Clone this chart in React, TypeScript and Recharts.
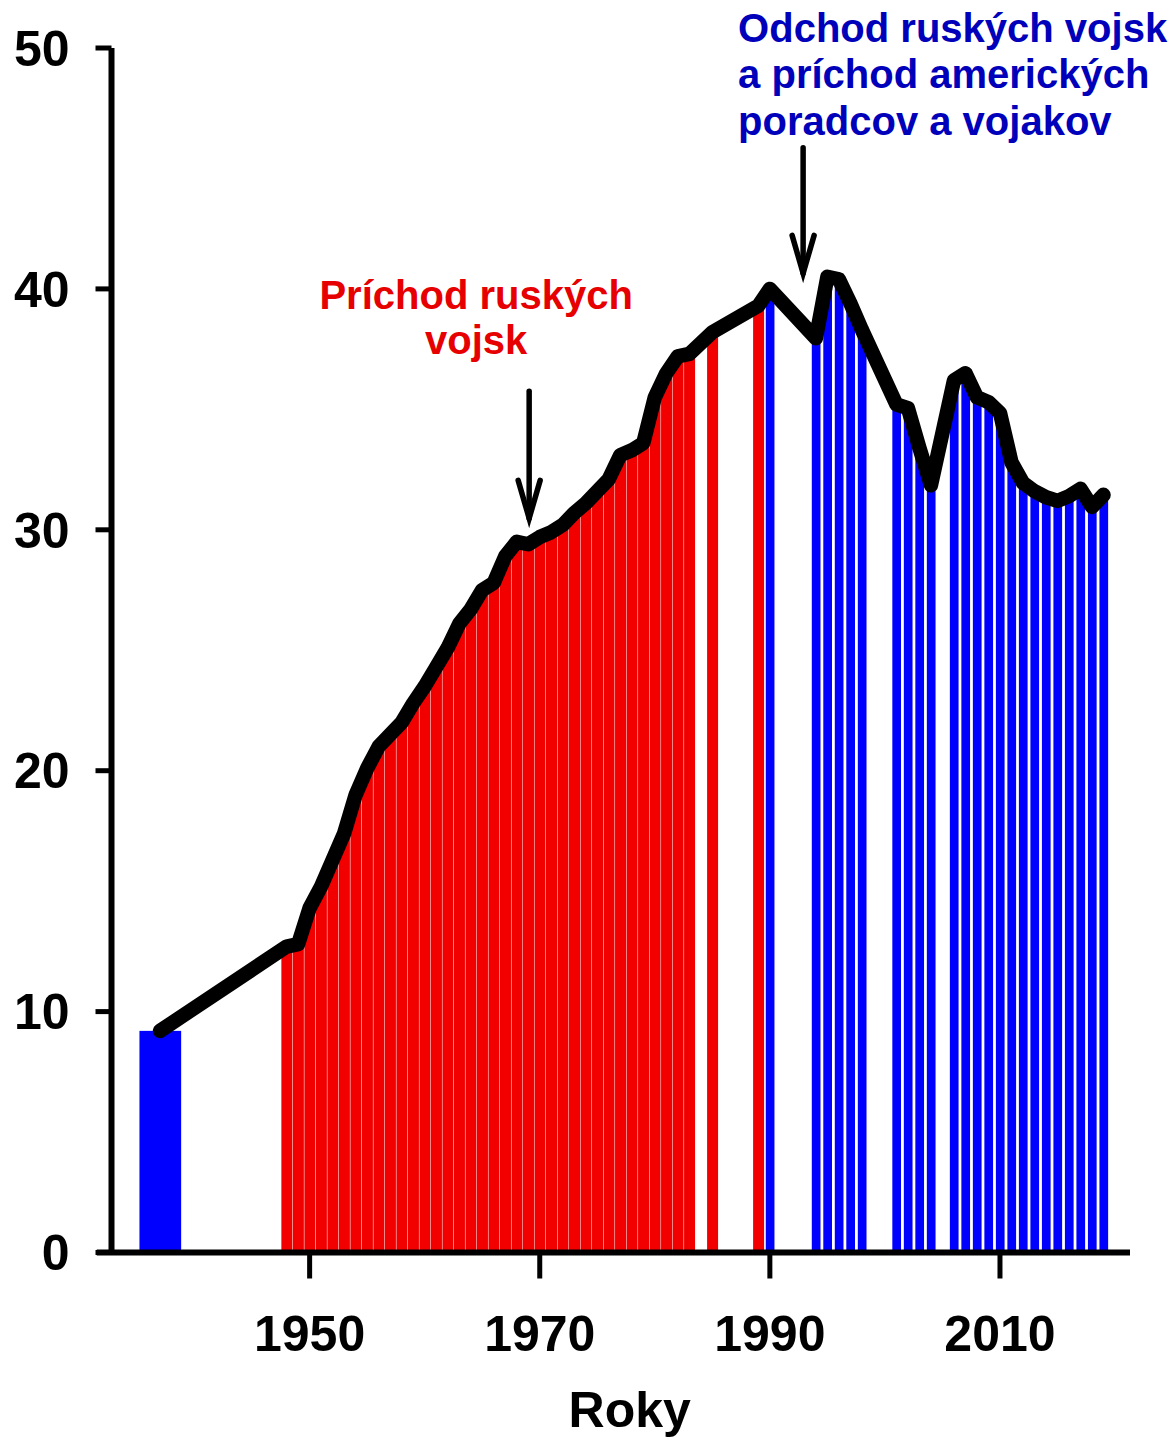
import React from 'react';
import { ComposedChart, Bar, Line, XAxis, YAxis, ReferenceLine, Label } from 'recharts';

// ---- data ----
const PRE_WAR_YEARS = [1937];
const PRE_WAR_VALUES = [9.2];

const OCCUPATION_YEARS = [
  1948, 1949, 1950, 1951, 1952, 1953, 1954, 1955, 1956, 1957, 1958, 1959,
  1960, 1961, 1962, 1963, 1964, 1965, 1966, 1967, 1968, 1969, 1970, 1971,
  1972, 1973, 1974, 1975, 1976, 1977, 1978, 1979, 1980, 1981, 1982, 1983,
  1985, 1989,
];
const OCCUPATION_VALUES = [
  12.7, 12.8, 14.3, 15.2, 16.3, 17.4, 19.0, 20.1, 21.0, 21.5, 22.0, 22.8,
  23.5, 24.3, 25.1, 26.1, 26.7, 27.5, 27.8, 28.9, 29.5, 29.4, 29.7, 29.9,
  30.2, 30.7, 31.1, 31.6, 32.1, 33.1, 33.3, 33.6, 35.5, 36.5, 37.2, 37.3,
  38.2, 39.3,
];

const POST_YEARS = [
  1990, 1994, 1995, 1996, 1997, 1998, 2001, 2002, 2003, 2004, 2006, 2007,
  2008, 2009, 2010, 2011, 2012, 2013, 2014, 2015, 2016, 2017, 2018, 2019,
];
const POST_VALUES = [
  40.0, 37.95, 40.5, 40.4, 39.4, 38.3, 35.2, 35.05, 33.4, 31.85, 36.2, 36.5,
  35.5, 35.3, 34.85, 32.8, 31.95, 31.6, 31.35, 31.2, 31.4, 31.7, 30.95, 31.45,
];

const X_TICKS = [1950, 1970, 1990, 2010];
const Y_TICKS = [0, 10, 20, 30, 40, 50];
const X_TITLE = 'Roky';
const RED_NOTE = ['Príchod ruských', 'vojsk'];
const BLUE_NOTE = ['Odchod ruských vojsk', 'a príchod amerických', 'poradcov a vojakov'];
const RED_ARROW = { year: 1969.08, from: 35.75, to: 30.35 };
const BLUE_ARROW = { year: 1992.89, from: 45.86, to: 40.52 };

// ---- styles ----
const FONT = '"Liberation Sans", Arial, sans-serif';
const ERA_STYLE: Record<string, { fill: string; gap: number }> = {
  pre: { fill: '#0000ff', gap: 3.3 },
  occupation: { fill: '#f20000', gap: 1 },
  post: { fill: '#0000ff', gap: 3.3 },
};
const WIDE_BAR_FACTOR = 3.75;

type Row = { year: number; value: number; era: string };
const build = (years: number[], values: number[], era: string): Row[] =>
  years.map((year, i) => ({ year, value: values[i], era }));

const data: Row[] = [
  ...build(PRE_WAR_YEARS, PRE_WAR_VALUES, 'pre'),
  ...build(OCCUPATION_YEARS, OCCUPATION_VALUES, 'occupation'),
  ...build(POST_YEARS, POST_VALUES, 'post'),
].sort((a, b) => a.year - b.year);

const BarShape = (props: any) => {
  const { x, y, width, height, payload } = props;
  if (!height || height <= 0 || width == null) return null;
  const st = ERA_STYLE[payload.era];
  const factor = payload.era === 'pre' ? WIDE_BAR_FACTOR : 1;
  const w = width * factor;
  const cx = x + width / 2;
  return (
    <rect x={cx - w / 2 + st.gap / 2} y={y} width={Math.max(0, w - st.gap)} height={height} fill={st.fill} />
  );
};

const makeArrow =
  (lines: string[], color: string, anchor: 'start' | 'middle', dx: number, baselines: number[]) =>
  (p: any) => {
    const x = p.x1;
    const top = Math.min(p.y1, p.y2);
    const tip = Math.max(p.y1, p.y2);
    return (
      <g>
        <line x1={x} y1={top} x2={x} y2={tip - 3} stroke="#000" strokeWidth={5.5} strokeLinecap="round" />
        <polyline
          points={`${x - 11},${tip - 41} ${x},${tip - 3} ${x + 11},${tip - 41}`}
          fill="none"
          stroke="#000"
          strokeWidth={5.5}
          strokeLinejoin="miter"
          strokeLinecap="round"
        />
        {lines.map((t, i) => (
          <text
            key={i}
            x={x + dx}
            y={top + baselines[i]}
            textAnchor={anchor}
            fill={color}
            fontSize={40}
            fontWeight={700}
            fontFamily={FONT}
          >
            {t}
          </text>
        ))}
      </g>
    );
  };

const tickStyle = { fill: '#000', fontSize: 50, fontWeight: 700, fontFamily: FONT };

export default function App() {
  return (
    <div style={{ position: 'absolute', left: 0, top: 0, background: '#fff' }}>
      <ComposedChart
        width={1174}
        height={1439}
        data={data}
        margin={{ top: 48, right: 44, bottom: 56.5, left: 0 }}
        barCategoryGap={0}
        barGap={0}
      >
        <XAxis
          type="number"
          dataKey="year"
          domain={[1932.78, 2021.3]}
          allowDataOverflow
          ticks={X_TICKS}
          interval={0}
          axisLine={false}
          tickSize={26}
          tickLine={{ stroke: '#000', strokeWidth: 5 }}
          tick={tickStyle}
          tickMargin={37}
          height={130}
        >
          <Label
            content={(lp: any) => {
              const vb = lp.viewBox || { x: 111.5, y: 1252.5, width: 1018.5 };
              return (
                <text
                  x={vb.x + vb.width / 2 + 9}
                  y={vb.y + 174.5}
                  textAnchor="middle"
                  fill="#000"
                  fontSize={50}
                  fontWeight={700}
                  fontFamily={FONT}
                >
                  {X_TITLE}
                </text>
              );
            }}
          />
        </XAxis>
        <YAxis
          type="number"
          domain={[0, 50]}
          ticks={Y_TICKS}
          interval={0}
          width={111.5}
          axisLine={{ stroke: '#000', strokeWidth: 6 }}
          tickSize={16}
          tickLine={{ stroke: '#000', strokeWidth: 5 }}
          tick={tickStyle}
          tickMargin={26}
        />
        <Bar dataKey="value" shape={BarShape} isAnimationActive={false} />
        <Line
          dataKey="value"
          type="linear"
          stroke="#000"
          strokeWidth={14.5}
          strokeLinejoin="round"
          strokeLinecap="round"
          dot={false}
          activeDot={false}
          isAnimationActive={false}
        />
        <ReferenceLine
          segment={[{ x: 1931.5, y: 0 }, { x: 2021.3, y: 0 }]}
          stroke="#000"
          strokeWidth={6}
          ifOverflow="visible"
        />
        <ReferenceLine
          segment={[{ x: RED_ARROW.year, y: RED_ARROW.from }, { x: RED_ARROW.year, y: RED_ARROW.to }]}
          ifOverflow="visible"
          shape={makeArrow(RED_NOTE, '#e60000', 'middle', -53, [-82, -37])}
        />
        <ReferenceLine
          segment={[{ x: BLUE_ARROW.year, y: BLUE_ARROW.from }, { x: BLUE_ARROW.year, y: BLUE_ARROW.to }]}
          ifOverflow="visible"
          shape={makeArrow(BLUE_NOTE, '#0000bb', 'start', -65, [-106, -59.5, -13])}
        />
      </ComposedChart>
    </div>
  );
}
